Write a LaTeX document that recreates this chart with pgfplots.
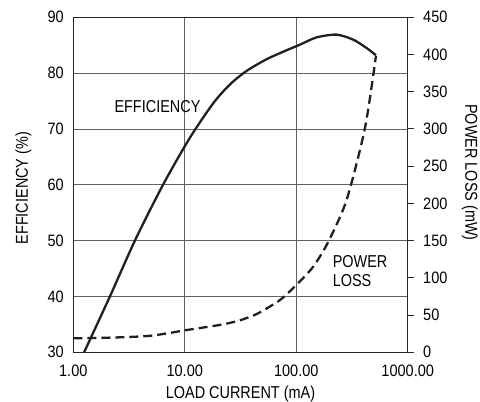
\documentclass[border=0pt]{standalone}
\usepackage{fontspec}
\setmainfont{Liberation Sans}[FakeStretch=0.88]
\newfontfamily\narrow{Liberation Sans}[FakeStretch=0.84]
\usepackage{pgfplots}
\pgfplotsset{compat=1.18}

\definecolor{curve}{HTML}{231F20}

\begin{document}
\begin{tikzpicture}[font=\fontsize{16.5}{19.5}\selectfont]

% fixed page frame: axis box at origin, 334.4 x 335
\path[use as bounding box] (-73.3pt,-49.7pt) rectangle (406.7pt,352.3pt);

\pgfplotsset{
    every axis/.append style={
        scale only axis,
        width=334.4pt, height=335pt,
        xmode=log, xmin=1, xmax=1000,
        /pgf/number format/assume math mode=true,
        font=\fontsize{16.5}{19.5}\selectfont,
    },
    every axis label/.append style={font=\narrow\fontsize{17.2}{20}\selectfont},
}

\begin{axis}[
    ymin=30, ymax=90,
    ytick={30,40,...,90},
    xtick={1,10,100,1000},
    xticklabels={1.00,10.00,100.00,1000.00},
    minor xtick={},
    grid=major,
    grid style={draw=black!62, line width=0.8pt},
    axis line style={draw=black!85, line width=1.2pt},
    tick style={draw=none},
    xticklabel style={yshift=-9pt},
    yticklabel style={xshift=-6pt},
    xlabel={LOAD CURRENT (mA)},
    xlabel style={at={(axis description cs:0.5,-0.125)}, anchor=center},
    ylabel={EFFICIENCY (\%)},
    ylabel style={at={(axis description cs:-0.149,0.49)}, anchor=center, rotate=0},
    clip=false,
    ]

\addplot[curve, line width=2.3pt, smooth, tension=0.45] coordinates {
    (1.25,30)
    (2.13,40)
    (3.57,50)
    (6.38,60)
    (11.1,68.4)
    (18.0,74.6)
    (25.5,78.0)
    (35.9,80.4)
    (54.3,82.5)
    (82.0,84.1)
    (108,85.1)
    (152,86.4)
    (230,86.9)
    (324,86.0)
    (428,84.5)
    (519,83.2)
};

\node[anchor=center, font=\narrow\fontsize{17.2}{20}\selectfont] at (axis cs:5.69,74.1) {EFFICIENCY};

\end{axis}

\begin{axis}[
    ymin=0, ymax=450,
    ytick={0,50,...,450},
    axis y line*=right,
    axis x line=none,
    axis line style={draw=black!85, line width=1.2pt},
    tick align=outside,
    major tick length=6pt,
    tick style={draw=black!85, line width=1pt},
    yticklabel style={xshift=6pt},
    ylabel={POWER LOSS (mW)},
    ylabel style={at={(axis description cs:1.186,0.537)}, anchor=center, rotate=180},
    clip=false,
    ]

\addplot[curve, line width=2.3pt, dash pattern=on 9pt off 5pt, smooth, tension=0.45] coordinates {
    (1,18.8)
    (2,19.6)
    (3.2,20.6)
    (4.9,22.2)
    (7,25.5)
    (10,29.5)
    (15,33.5)
    (22,37.5)
    (31.3,43)
    (45,52)
    (71.4,70.2)
    (100,90.4)
    (142,115)
    (194,148.5)
    (283,204.6)
    (413,300.8)
    (519,398)
};

\node[anchor=west, align=left, font=\narrow\fontsize{17.2}{19.3}\selectfont] at (axis cs:197.7,109) {POWER\\LOSS};

\end{axis}
\end{tikzpicture}
\end{document}
